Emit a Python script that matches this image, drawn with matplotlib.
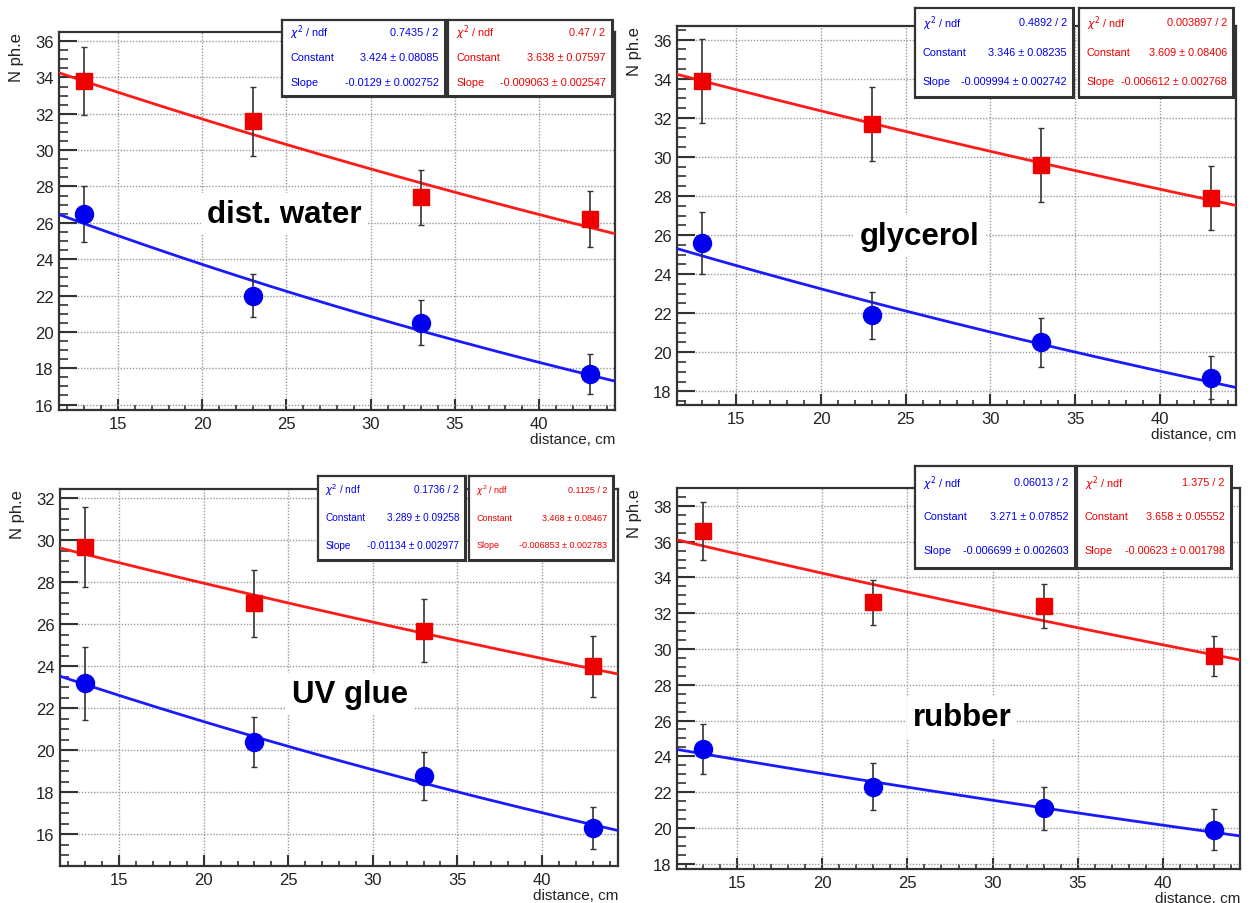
import matplotlib
matplotlib.use("Agg")
import matplotlib.pyplot as plt
import numpy as np
from matplotlib.ticker import MultipleLocator

plt.rcParams['font.family'] = ['Liberation Sans', 'DejaVu Sans']

# distances of the measurement points
x_cm = [13, 23, 33, 43]

panel_names = ["dist. water", "glycerol", "UV glue", "rubber"]

# red squares (upper series)
red_vals = [[33.8, 31.6, 27.4, 26.2],
            [33.9, 31.7, 29.6, 27.9],
            [29.7, 27.0, 25.7, 24.0],
            [36.6, 32.6, 32.4, 29.6]]
red_errs = [[1.85, 1.9, 1.5, 1.55],
            [2.15, 1.9, 1.9, 1.65],
            [1.9, 1.6, 1.5, 1.45],
            [1.6, 1.25, 1.25, 1.1]]

# blue circles (lower series)
blue_vals = [[26.5, 22.0, 20.5, 17.7],
             [25.6, 21.9, 20.5, 18.7],
             [23.2, 20.4, 18.8, 16.3],
             [24.4, 22.3, 21.1, 19.9]]
blue_errs = [[1.55, 1.2, 1.25, 1.1],
             [1.6, 1.2, 1.25, 1.1],
             [1.75, 1.2, 1.15, 1.0],
             [1.4, 1.3, 1.2, 1.15]]

# exponential fit results, exp(Constant + Slope*x)
red_chi2 = ["0.47", "0.003897", "0.1125", "1.375"]
red_const = [3.638, 3.609, 3.468, 3.658]
red_const_err = ["0.07597", "0.08406", "0.08467", "0.05552"]
red_slope = [-0.009063, -0.006612, -0.006853, -0.00623]
red_slope_err = ["0.002547", "0.002768", "0.002783", "0.001798"]

blue_chi2 = ["0.7435", "0.4892", "0.1736", "0.06013"]
blue_const = [3.424, 3.346, 3.289, 3.271]
blue_const_err = ["0.08085", "0.08235", "0.09258", "0.07852"]
blue_slope = [-0.0129, -0.009994, -0.01134, -0.006699]
blue_slope_err = ["0.002752", "0.002742", "0.002977", "0.002603"]

y_limits = [(15.7, 36.5), (17.3, 36.7), (14.5, 32.45), (17.7, 39.0)]

W, H = 1256, 904
fig = plt.figure(figsize=(W / 100, H / 100), dpi=100)

# pixel boxes (left, top, right, bottom) of the four pads
axes_px = [(59, 33, 615, 411), (677, 27, 1236, 406),
           (60, 490, 618, 867), (677, 489, 1240, 870)]
blue_box_px = [(282, 21, 445, 97), (915, 9, 1073, 98),
               (318, 477, 465, 561), (915, 467, 1075, 569)]
red_box_px = [(448, 21, 612, 97), (1079, 9, 1233, 98),
              (469, 477, 613, 561), (1077, 467, 1231, 569)]
label_px = [(284, 215), (920, 237), (350, 695), (962, 718)]
blue_fs = [7.8, 7.8, 7.2, 7.8]
red_fs = [7.8, 7.8, 6.5, 7.8]


def px_rect(l, t, r, b):
    return [l / W, 1 - b / H, (r - l) / W, (b - t) / H]


def stat_box(rect, color, chi2, c, cerr, s, serr, fs):
    bx = fig.add_axes(px_rect(*rect), zorder=5)
    bx.set_xticks([])
    bx.set_yticks([])
    for sp in bx.spines.values():
        sp.set_color('#333333')
        sp.set_linewidth(1.6)
    bx.spines['bottom'].set_linewidth(2.2)
    bx.spines['right'].set_linewidth(2.2)
    rows = [(r"$\chi^2$ / ndf", f"{chi2} / 2"),
            ("Constant", f"{c:g} ± {cerr}"),
            ("Slope", f"{s:g} ± {serr}")]
    for i, (name, val) in enumerate(rows):
        yy = 0.84 - i * 0.33
        bx.text(0.05, yy, name, color=color, fontsize=fs, ha='left', va='center')
        bx.text(0.96, yy, val, color=color, fontsize=fs, ha='right', va='center')


xx = np.linspace(11.5, 44.5, 200)

for k in range(4):
    ax = fig.add_axes(px_rect(*axes_px[k]))
    ax.set_xlim(11.5, 44.5)
    ax.set_ylim(*y_limits[k])
    ax.xaxis.set_major_locator(MultipleLocator(5))
    ax.xaxis.set_minor_locator(MultipleLocator(1))
    ax.yaxis.set_major_locator(MultipleLocator(2))
    ax.yaxis.set_minor_locator(MultipleLocator(0.5))
    ax.tick_params(which='both', direction='in', top=False, right=False,
                   labelsize=12, colors='#333333', labelcolor='#222222', pad=4)
    ax.tick_params(axis='y', which='major', length=13, width=1.5)
    ax.tick_params(axis='y', which='minor', length=6.5, width=1.2)
    ax.tick_params(axis='x', which='major', length=8, width=1.5)
    ax.tick_params(axis='x', which='minor', length=3.8, width=1.2)
    ax.grid(True, which='major', linestyle=(0, (1, 1.2)), color='#999999', linewidth=1.0)
    for sp in ax.spines.values():
        sp.set_color('#333333')
        sp.set_linewidth(1.6)

    ax.plot(xx, np.exp(red_const[k] + red_slope[k] * xx), color='#ff1a1a', lw=2, zorder=3)
    ax.plot(xx, np.exp(blue_const[k] + blue_slope[k] * xx), color='#1a1aff', lw=2, zorder=3)
    ax.errorbar(x_cm, red_vals[k], yerr=red_errs[k], fmt='s', color='#ee0000',
                ms=12, ecolor='#333333', elinewidth=1.2, capsize=2, zorder=4)
    ax.errorbar(x_cm, blue_vals[k], yerr=blue_errs[k], fmt='o', color='#0000ee',
                ms=13, ecolor='#333333', elinewidth=1.2, capsize=2, zorder=4)

    ax.set_ylabel("N ph.e", loc='top', fontsize=12, color='#222222')
    ax.yaxis.set_label_coords(-0.063, 1.0)
    ax.set_xlabel("distance, cm", loc='right', fontsize=11, color='#222222')
    ax.xaxis.set_label_coords(1.0, -0.058)

    lx, ly = label_px[k]
    fig.text(lx / W, 1 - ly / H, panel_names[k], fontsize=22.5, fontweight='bold',
             ha='center', va='center', zorder=6,
             bbox=dict(facecolor='white', edgecolor='none', pad=4))

    stat_box(blue_box_px[k], '#0000ee', blue_chi2[k], blue_const[k], blue_const_err[k],
             blue_slope[k], blue_slope_err[k], blue_fs[k])
    stat_box(red_box_px[k], '#ee0000', red_chi2[k], red_const[k], red_const_err[k],
             red_slope[k], red_slope_err[k], red_fs[k])

fig.savefig("out.png", dpi=100)
